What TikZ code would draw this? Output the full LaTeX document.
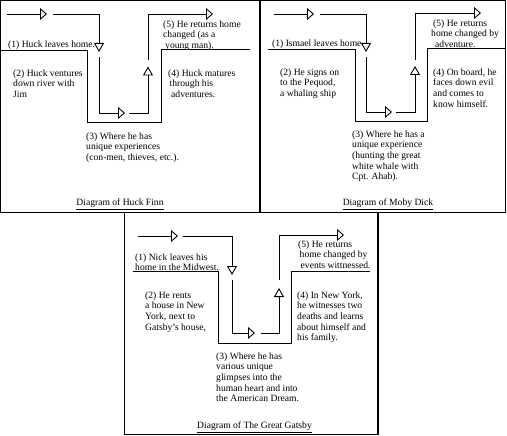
\documentclass[tikz,border=0pt]{standalone}
\usepackage{fontspec}
\setmainfont{Liberation Serif}
\usetikzlibrary{arrows.meta}
\tikzset{
  frame/.style={line width=1.3pt},
  route/.style={line width=0.9pt},
  htip/.style={route,-{Triangle[open,length=7pt,width=12pt]}},
  vtip/.style={route,-{Triangle[open,length=9pt,width=10pt]}},
  txt/.style={anchor=north west,inner sep=0pt,align=left,font=\fontsize{9.6}{10.7}\selectfont},
  foot/.style={anchor=north,inner sep=0pt,font=\fontsize{9.6}{10.7}\selectfont},
}
\begin{document}
\begin{tikzpicture}[x=1pt,y=-1pt]
\useasboundingbox (0,0) rectangle (507,436);
\draw[frame] (0.75,0.75) rectangle (505.5,212.75);
\draw[frame] (260,0.75) -- (260,212.75);
\draw[frame] (124.25,212.75) rectangle (378,434.25);
\draw[htip] (7,14) -- (47,14);
\draw[vtip] (53,14) -- (99,14) -- (99,52);
\draw[htip] (99,57) -- (99,113) -- (125,113);
\draw[vtip] (129,113) -- (148,113) -- (148,66.5);
\draw[htip] (148,60) -- (148,14) -- (213,14);
\draw[route] (1,50) -- (87,50) -- (87,122) -- (161,122) -- (161,49) -- (250,49);
\node[txt] (huckone) at (8,40.3) {(1) Huck leaves home.};
\node[txt] (hucktwo) at (13,69.3) {(2) Huck ventures\\down river with\\Jim};
\node[txt] (huckthree) at (86,132.3) {(3) Where he has\\unique experiences\\(con-men, thieves, etc.).};
\node[txt] (huckfour) at (168,69.3) {(4) Huck matures\\\hspace*{1.5pt}through his\\\hspace*{3pt}adventures.};
\node[txt] (huckfive) at (163,20.3) {(5) He returns home\\changed (as a\\\hspace*{2pt}young man).};
\node[foot] (huckfoot) at (120,199) {\underline{Diagram of Huck Finn}};
\draw[htip] (274,14) -- (314,14);
\draw[vtip] (320,14) -- (366,14) -- (366,52);
\draw[htip] (366,57) -- (366,112) -- (392,112);
\draw[vtip] (396,112) -- (415,112) -- (415,66);
\draw[htip] (415,60) -- (415,13) -- (481,13);
\draw[route] (268,49) -- (355,49) -- (355,121) -- (427,121) -- (427,48) -- (505,48);
\node[txt] (mobyone) at (272,39.3) {(1) Ismael leaves home.};
\node[txt] (mobytwo) at (280,68.3) {(2) He signs on\\to the Pequod,\\a whaling ship};
\node[txt] (mobythree) at (352,130.3) {(3) Where he has a\\unique experience\\(hunting the great\\white whale with\\Cpt. Ahab).};
\node[txt] (mobyfour) at (433,68.3) {(4) On board, he\\faces down evil\\and comes to\\know himself.};
\node[txt] (mobyfive) at (431,19.3) {\hspace*{2pt}(5) He returns\\home changed by\\\hspace*{4pt}adventure.};
\node[foot] (mobyfoot) at (388,199) {\underline{Diagram of Moby Dick}};
\draw[htip] (138,236) -- (178,236);
\draw[vtip] (183,236) -- (232,236) -- (232,275);
\draw[htip] (232,280) -- (232,333) -- (255,333);
\draw[vtip] (261,333) -- (279,333) -- (279,288);
\draw[htip] (279,280) -- (279,235) -- (344,235);
\draw[route] (133,271) -- (218,271) -- (218,343) -- (291,343) -- (291,271) -- (370,271);
\node[txt] (gatsbyone) at (135,253.3) {(1) Nick leaves his\\home in the Midwest.};
\node[txt] (gatsbytwo) at (145,291.3) {(2) He rents\\a house in New\\York, next to\\Gatsby's house,};
\node[txt] (gatsbythree) at (216,352.3) {(3) Where he has\\various unique\\glimpses into the\\human heart and into\\the American Dream.};
\node[txt] (gatsbyfour) at (297,291.3) {(4) In New York,\\he witnesses two\\deaths and learns\\about himself and\\his family.};
\node[txt] (gatsbyfive) at (298,240.3) {(5) He returns\\\hspace*{1.5pt}home changed by\\\hspace*{2.5pt}events wittnessed.};
\node[foot] (gatsbyfoot) at (254.5,421.5) {\underline{Diagram of The Great Gatsby}};
\end{tikzpicture}
\end{document}
